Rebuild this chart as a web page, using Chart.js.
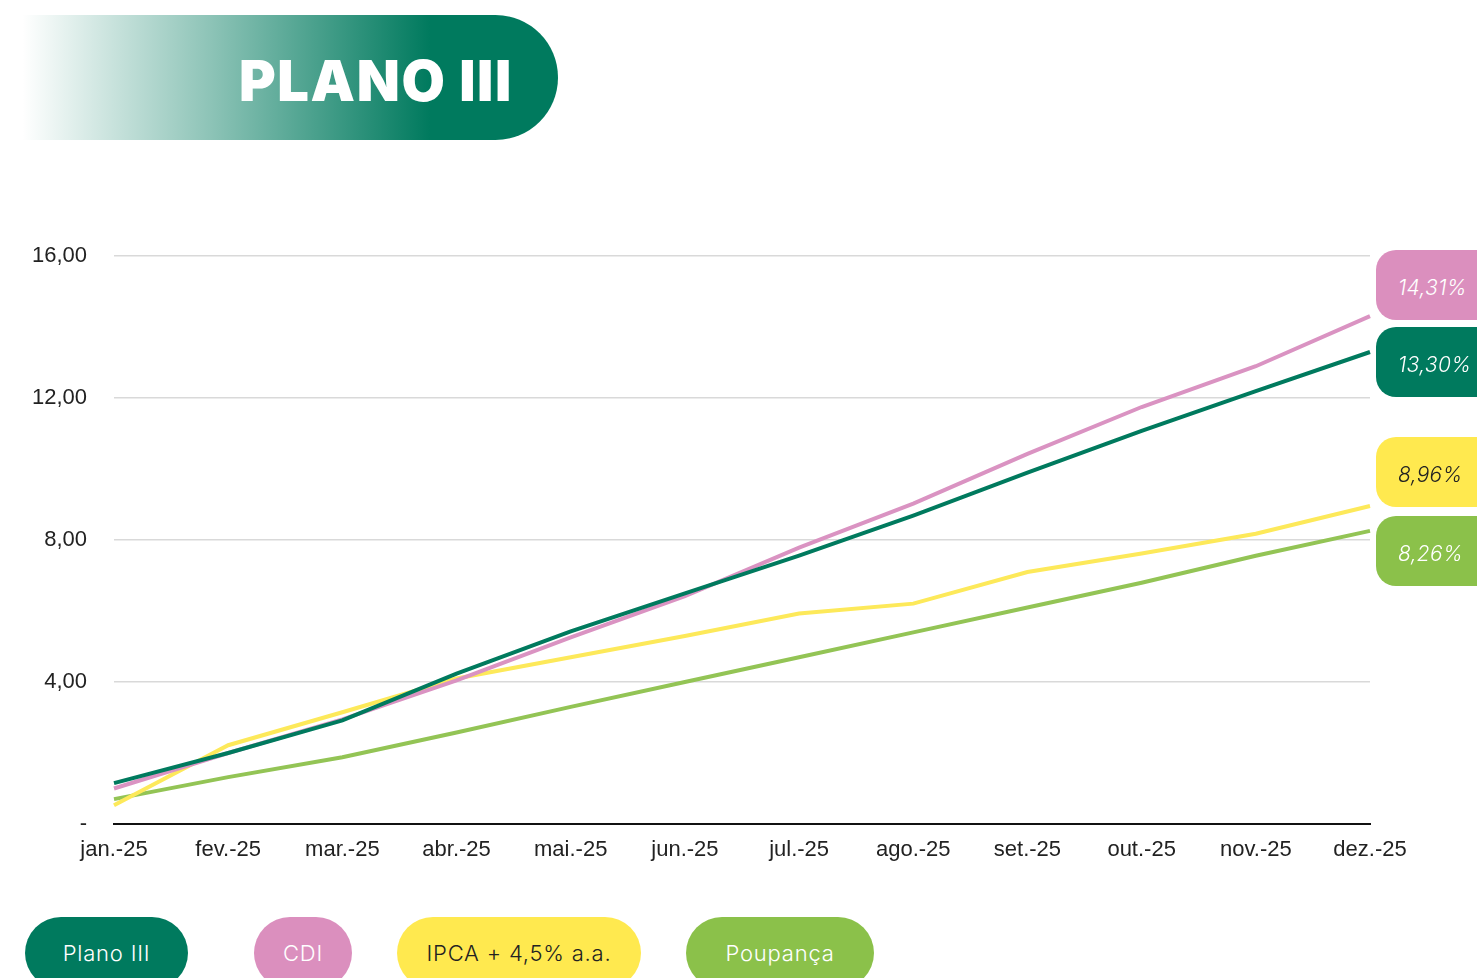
<!DOCTYPE html>
<html>
<head>
<meta charset="utf-8">
<script src="https://cdn.jsdelivr.net/npm/chart.js@4"></script>
<style>
  html, body { margin: 0; padding: 0; background: #fff; overflow: hidden; }
  body { width: 1477px; height: 978px; position: relative; }
  .header {
    position: absolute; left: 0; top: 15px; width: 558px; height: 125px;
    border-radius: 0 63px 63px 0;
    background: linear-gradient(90deg, rgba(0,122,94,0) 4%, rgba(0,122,94,0.45) 38%, #007A5E 77%);
  }
  .header span {
    position: absolute; left: 239px; top: 38px;
    font-family: Inter, Lato, sans-serif; font-weight: 900;
    font-size: 56px; color: #fff; letter-spacing: 1.6px;
    line-height: 56px;
  }
  #wrap { position: absolute; left: 0; top: 216px; width: 1430px; height: 658px; }
  .val {
    position: absolute; left: 1376px; width: 130px; height: 70px;
    border-radius: 20px; font-family: Inter, "Noto Sans", sans-serif; font-style: italic;
    font-weight: 300; font-size: 21px; letter-spacing: 0.3px; line-height: 76px; color: #fff;
    padding-left: 22px; box-sizing: border-box;
  }
  .pill {
    position: absolute; top: 917px; height: 72px; border-radius: 36px;
    font-family: Inter, "Noto Sans", sans-serif; font-weight: 300; font-size: 22px;
    letter-spacing: 0.8px; line-height: 72px; text-align: center; color: #fff;
  }
</style>
</head>
<body>
<div class="header"><span>PLANO III</span></div>
<div id="wrap"><canvas id="grafico"></canvas></div>

<div class="val" style="top:250px;background:#DB8FBE;">14,31%</div>
<div class="val" style="top:327px;background:#007A5E;">13,30%</div>
<div class="val" style="top:437px;background:#FFE94F;color:#222;">8,96%</div>
<div class="val" style="top:516px;background:#8BC14A;">8,26%</div>

<div class="pill" style="left:25px;width:163px;background:#007A5E;">Plano III</div>
<div class="pill" style="left:254px;width:98px;background:#DB8FBE;">CDI</div>
<div class="pill" style="left:397px;width:244px;background:#FFE94F;color:#222;">IPCA + 4,5% a.a.</div>
<div class="pill" style="left:686px;width:188px;background:#8BC14A;">Poupança</div>

<script>
const meses = ['jan.-25', 'fev.-25', 'mar.-25', 'abr.-25', 'mai.-25', 'jun.-25',
               'jul.-25', 'ago.-25', 'set.-25', 'out.-25', 'nov.-25', 'dez.-25'];
const plano3 = [1.15, 2.0, 2.92, 4.24, 5.43, 6.5, 7.56, 8.69, 9.9, 11.08, 12.2, 13.30];
const cdi = [1.0, 2.0, 2.95, 4.05, 5.26, 6.42, 7.79, 9.03, 10.43, 11.75, 12.9, 14.31];
const ipca = [0.53, 2.22, 3.15, 4.1, 4.7, 5.3, 5.93, 6.21, 7.1, 7.62, 8.18, 8.96];
const poupanca = [0.7, 1.32, 1.88, 2.58, 3.3, 4.0, 4.7, 5.4, 6.1, 6.8, 7.56, 8.26];
const yTicks = [0, 4, 8, 12, 16];

const serie = (label, data, color) => ({
  label: label,
  data: data,
  borderColor: color,
  backgroundColor: color,
  borderWidth: 4,
  pointRadius: 0,
  tension: 0
});

const grafico = new Chart(document.getElementById('grafico'), {
  type: 'line',
  data: {
    labels: meses,
    datasets: [
      serie('Plano III', plano3, '#007A5E'),
      serie('CDI', cdi, '#DA93C2'),
      serie('IPCA + 4,5% a.a.', ipca, '#FDE95A'),
      serie('Poupança', poupanca, '#93C455')
    ]
  },
  options: {
    responsive: true,
    maintainAspectRatio: false,
    animation: false,
    layout: { padding: { top: 12, right: 60, left: 0, bottom: 0 } },
    plugins: {
      legend: { display: false },
      tooltip: { enabled: false }
    },
    scales: {
      x: {
        offset: false,
        grid: { display: false, drawTicks: false },
        border: { display: true, color: '#111', width: 2 },
        ticks: {
          padding: 13,
          color: '#222',
          maxRotation: 0,
          autoSkip: false,
          font: { family: '"Liberation Sans", Arial, sans-serif', size: 22 }
        },
        afterFit: function(scale) { scale.height = 50; }
      },
      y: {
        min: 0,
        max: 16,
        afterBuildTicks: function(scale) { scale.ticks = yTicks.map(v => ({ value: v })); },
        grid: { color: '#d9d9d9', lineWidth: 1.5, drawTicks: false },
        border: { display: false },
        ticks: {
          padding: 27,
          color: '#222',
          font: { family: '"Liberation Sans", Arial, sans-serif', size: 22 },
          callback: function(value) {
            return value === 0 ? '-' : value.toFixed(2).replace('.', ',');
          }
        },
        afterFit: function(scale) { scale.width = 114; }
      }
    }
  }
});
</script>
</body>
</html>
